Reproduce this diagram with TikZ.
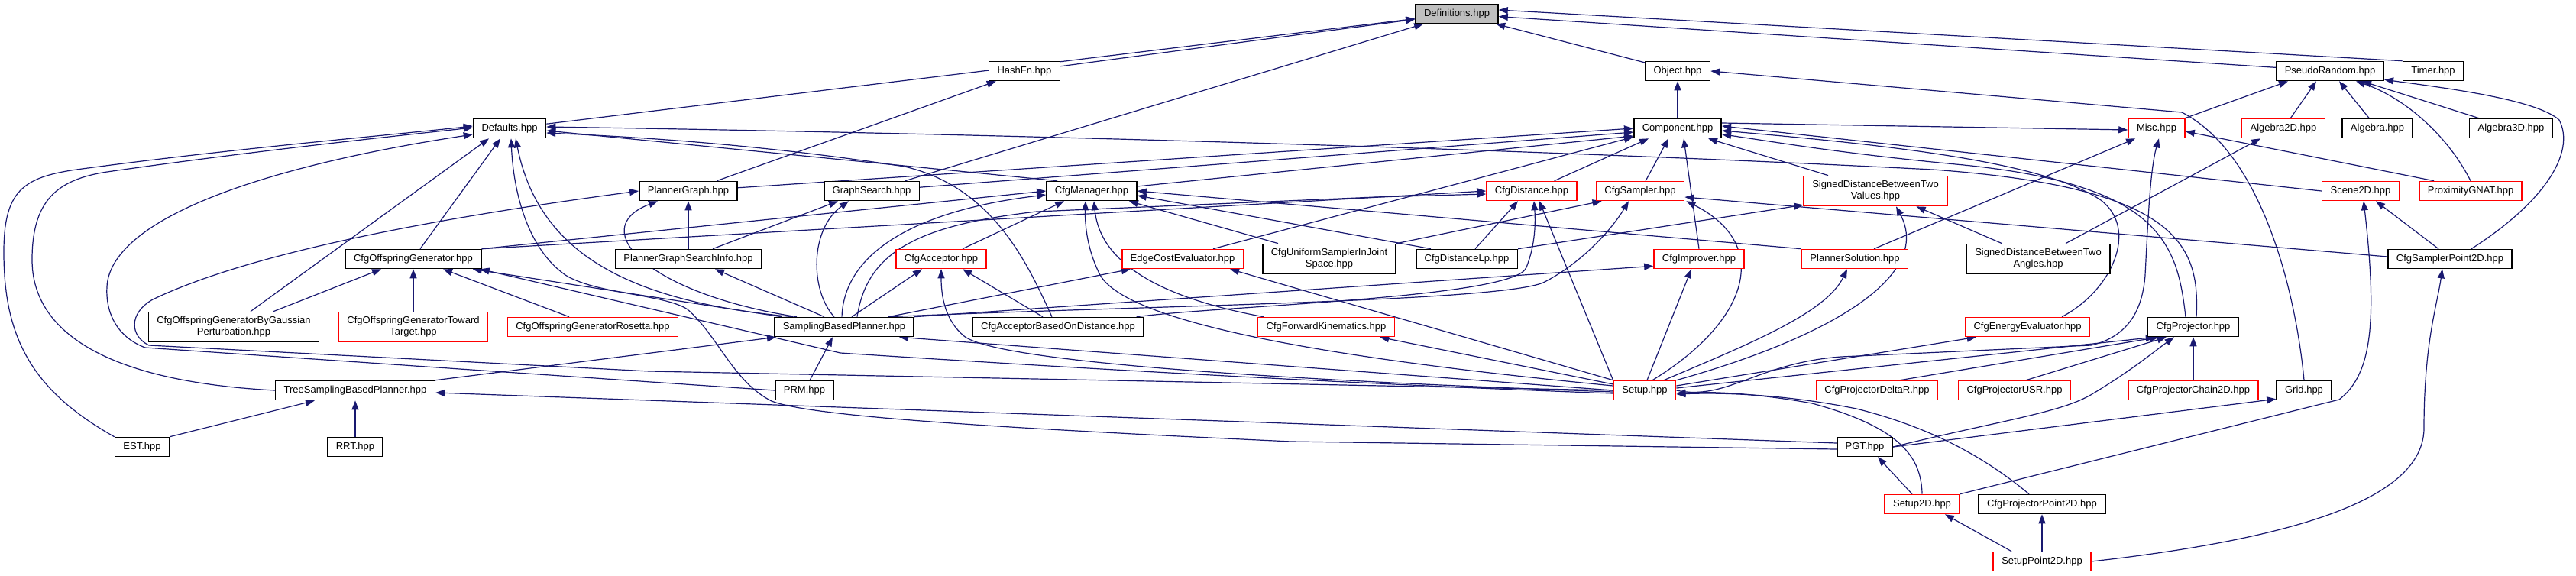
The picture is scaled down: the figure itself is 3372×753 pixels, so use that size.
\documentclass[tikz,border=0pt]{standalone}
\usepackage{fontspec}
\setmainfont{Liberation Sans}
\usetikzlibrary{arrows.meta,calc}
\definecolor{edgec}{HTML}{191970}
\definecolor{defgrey}{HTML}{BFBFBF}
\newcommand\nodefont{\fontsize{13}{15}\selectfont}
\pgfdeclarelayer{bg}
\pgfsetlayers{bg,main}
\begin{document}
\begin{tikzpicture}[x=1pt,y=-1pt,
  box/.style={draw=black,line width=1.6pt,fill=white,inner xsep=11pt,inner ysep=6pt,minimum height=25pt,font=\nodefont,align=center},
  rbox/.style={box,draw=red},
  e/.style={draw=edgec,line width=1.2pt,-{Triangle[length=12pt,width=9pt]}}]
\useasboundingbox (0,0) rectangle (3372,753);
% rows
\node[box,fill=defgrey] (def) at (1907,18) {Definitions.hpp};
\node[box] (hash) at (1341,93) {HashFn.hpp};
\node[box] (obj) at (2196,93) {Object.hpp};
\node[box] (pr) at (3050,93) {PseudoRandom.hpp};
\node[box] (timer) at (3185,93) {Timer.hpp};
\node[box] (defaults) at (667,168) {Defaults.hpp};
\node[box] (comp) at (2196,168) {Component.hpp};
\node[rbox] (misc) at (2823,168) {Misc.hpp};
\node[rbox] (alg2d) at (2989,168) {Algebra2D.hpp};
\node[box] (alg) at (3112,168) {Algebra.hpp};
\node[box] (alg3d) at (3287,168) {Algebra3D.hpp};
\node[box] (pg) at (901,250) {PlannerGraph.hpp};
\node[box] (gs) at (1141,250) {GraphSearch.hpp};
\node[box] (cm) at (1429,250) {CfgManager.hpp};
\node[rbox] (cd) at (2005,250) {CfgDistance.hpp};
\node[rbox] (cs) at (2147,250) {CfgSampler.hpp};
\node[rbox] (sdv) at (2455,250) {SignedDistanceBetweenTwo\\Values.hpp};
\node[rbox] (scene) at (3090,250) {Scene2D.hpp};
\node[rbox] (gnat) at (3234,250) {ProximityGNAT.hpp};
\node[box] (cog) at (541,339) {CfgOffspringGenerator.hpp};
\node[box] (pgsi) at (901,339) {PlannerGraphSearchInfo.hpp};
\node[rbox] (cacc) at (1232,339) {CfgAcceptor.hpp};
\node[rbox] (ece) at (1548,339) {EdgeCostEvaluator.hpp};
\node[box] (cus) at (1740,339) {CfgUniformSamplerInJoint\\Space.hpp};
\node[box] (cdlp) at (1920,339) {CfgDistanceLp.hpp};
\node[rbox] (cimp) at (2224,339) {CfgImprover.hpp};
\node[rbox] (psol) at (2428,339) {PlannerSolution.hpp};
\node[box] (sda) at (2668,339) {SignedDistanceBetweenTwo\\Angles.hpp};
\node[box] (csp2d) at (3207,339) {CfgSamplerPoint2D.hpp};
\node[box] (cogg) at (306,428) {CfgOffspringGeneratorByGaussian\\Perturbation.hpp};
\node[rbox] (cogt) at (541,428) {CfgOffspringGeneratorToward\\Target.hpp};
\node[rbox] (cogr) at (776,428) {CfgOffspringGeneratorRosetta.hpp};
\node[box] (sbp) at (1105,428) {SamplingBasedPlanner.hpp};
\node[box] (cabd) at (1385,428) {CfgAcceptorBasedOnDistance.hpp};
\node[rbox] (cfk) at (1736,428) {CfgForwardKinematics.hpp};
\node[rbox] (cee) at (2654,428) {CfgEnergyEvaluator.hpp};
\node[box] (cproj) at (2871,428) {CfgProjector.hpp};
\node[box] (tsbp) at (465,511) {TreeSamplingBasedPlanner.hpp};
\node[box] (prm) at (1053,511) {PRM.hpp};
\node[rbox] (setup) at (2153,511) {Setup.hpp};
\node[rbox] (cpdr) at (2457,511) {CfgProjectorDeltaR.hpp};
\node[rbox] (cpusr) at (2637,511) {CfgProjectorUSR.hpp};
\node[rbox] (cpc2d) at (2871,511) {CfgProjectorChain2D.hpp};
\node[box] (grid) at (3016,511) {Grid.hpp};
\node[box] (est) at (186,585) {EST.hpp};
\node[box] (rrt) at (465,585) {RRT.hpp};
\node[box] (pgt) at (2441,585) {PGT.hpp};
\node[rbox] (s2d) at (2516,660) {Setup2D.hpp};
\node[box] (cpp2d) at (2673,660) {CfgProjectorPoint2D.hpp};
\node[rbox] (sp2d) at (2673,735) {SetupPoint2D.hpp};

\begin{pgfonlayer}{bg}
% Definitions
\draw[e] (defaults) -- (def);
\draw[e] (hash) -- (def);
\draw[e] (gs) -- (def);
\draw[e] (obj) -- (def);
\draw[e] (pr) -- (def);
\draw[e] (timer.north west) -- ($(def.east)+(0,-5)$);
% Object, HashFn, PseudoRandom
\draw[e] (comp) -- (obj);
\draw[e] (grid.north) .. controls (3005,380) and (2960,200) .. (2856,147) -- (obj.east);
\draw[e] (pg) -- (hash);
\draw[e] (misc) -- ($(pr.south)+(-55,0)$);
\draw[e] (alg2d) -- ($(pr.south)+(-18,0)$);
\draw[e] (alg) -- ($(pr.south)+(12,0)$);
\draw[e] (alg3d) -- ($(pr.south)+(42,0)$);
\draw[e] (gnat.north) .. controls (3200,170) and (3140,125) .. ($(pr.south)+(34,0)$);
\draw[e] ($(csp2d.north)+(28,0)$) .. controls (3330,265) and (3372,200) .. (3350,157) .. controls (3320,130) and (3200,115) .. ($(pr.south east)+(0,-2)$);
% Defaults
\draw[e] (est.north west) .. controls (40,510) and (5,440) .. (5,330) .. controls (5,250) and (30,232) .. (100,222) .. controls (300,195) and (500,178) .. ($(defaults.west)+(0,-3)$);
\draw[e] (tsbp.west) .. controls (150,500) and (42,440) .. (42,340) .. controls (42,262) and (75,235) .. (140,225) .. controls (330,198) and (500,180) .. ($(defaults.west)+(0,-1)$);
\draw[e] (prm.west) -- (190,455) .. controls (150,440) and (138,405) .. (140,375) .. controls (145,290) and (330,220) .. ($(defaults.west)+(0,8)$);
\draw[e] ($(cogg.north)+(22,0)$) -- ($(defaults.south)+(-27,0)$);
\draw[e] ($(cog.north)+(9,0)$) -- ($(defaults.south)+(-12,0)$);
\draw[e] ($(sbp.north west)+(25,0)$) .. controls (820,395) and (705,330) .. ($(defaults.south)+(8,0)$);
\draw[e] ($(pgt.west)+(0,3)$) -- (1690,578) .. controls (1300,560) and (1060,545) .. (1010,525) .. controls (960,500) and (940,440) .. (900,405) .. controls (870,385) and (780,385) .. (740,360) .. controls (690,325) and (672,250) .. ($(defaults.south)+(2,0)$);
\draw[e] ($(cm.north west)+(15,0)$) -- ($(defaults.east)+(0,3)$);
\draw[e] ($(cabd.north)+(-8,0)$) .. controls (1345,345) and (1300,245) .. (1184,218) .. controls (1000,190) and (850,180) .. ($(defaults.east)+(0,6)$);
\draw[e] ($(cproj.north)+(4,0)$) .. controls (2880,320) and (2850,245) .. (2530,222) .. controls (2000,195) and (1300,175) .. ($(defaults.east)+(0,-2)$);
% Component
\draw[e] (pg) -- (comp.west);
\draw[e] (gs) -- ($(comp.west)+(0,5)$);
\draw[e] (cm) -- ($(comp.west)+(0,10)$);
\draw[e] ($(ece.north)+(40,0)$) -- ($(comp.south west)+(0,-2)$);
\draw[e] (cd) -- ($(comp.south)+(-38,0)$);
\draw[e] (cs) -- ($(comp.south)+(-12,0)$);
\draw[e] (cimp.north) -- ($(comp.south)+(8,0)$);
\draw[e] ($(sdv.north)+(-62,0)$) -- ($(comp.south east)+(-18,0)$);
\draw[e] (scene.west) -- ($(comp.east)+(0,-3)$);
\draw[e] ($(cee.north)+(45,0)$) .. controls (2765,380) and (2800,300) .. (2750,262) .. controls (2680,215) and (2500,192) .. ($(comp.east)+(0,3)$);
\draw[e] ($(cproj.north)+(-10,0)$) .. controls (2850,320) and (2830,240) .. (2560,215) .. controls (2400,200) and (2300,182) .. ($(comp.east)+(0,8)$);
% Misc, Algebra2D, Scene2D, CfgSamplerPoint2D
\draw[e] ($(comp.east)+(0,-7)$) -- ($(misc.west)+(0,2)$);
\draw[e] ($(psol.north)+(25,0)$) -- ($(misc.south west)+(10,0)$);
\draw[e] (setup.east) .. controls (2260,525) and (2300,475) .. (2410,467) -- (2737,452) .. controls (2790,440) and (2805,400) .. (2808,360) .. controls (2812,280) and (2815,220) .. ($(misc.south)+(3,0)$);
\draw[e] ($(gnat.north west)+(20,0)$) -- ($(misc.east)+(0,4)$);
\draw[e] ($(sda.north)+(36,0)$) -- ($(alg2d.south)+(-30,0)$);
\draw[e] (s2d.north east) -- (3062,523) .. controls (3105,490) and (3112,420) .. ($(scene.south)+(4,0)$);
\draw[e] ($(csp2d.north)+(-15,0)$) -- ($(scene.south)+(20,0)$);
\draw[e] (sp2d.east) .. controls (3050,700) and (3173,640) .. (3173,560) .. controls (3173,450) and (3190,400) .. ($(csp2d.south)+(-10,0)$);
% PlannerGraph, GraphSearch
\draw[e] (pgsi) -- (pg);
\draw[e] ($(sbp.north west)+(30,0)$) .. controls (850,385) and (765,300) .. ($(pg.south)+(-40,0)$);
\draw[e] (setup.west) -- (850,486) -- (195,452) .. controls (170,440) and (168,410) .. (200,392) .. controls (350,320) and (650,275) .. (pg.west);
\draw[e] ($(pgsi.north)+(32,0)$) -- ($(gs.south)+(-44,0)$);
\draw[e] ($(sbp.north)+(-13,0)$) .. controls (1060,380) and (1060,300) .. ($(gs.south)+(-30,0)$);
% CfgManager
\draw[e] (cog.north east) -- (cm.west);
\draw[e] ($(sbp.north)+(-3,0)$) .. controls (1105,330) and (1200,275) .. ($(cm.west)+(0,5)$);
\draw[e] ($(cacc.north)+(28,0)$) -- ($(cm.south)+(-36,0)$);
\draw[e] ($(cfk.north west)+(8,0)$) .. controls (1520,390) and (1440,345) .. ($(cm.south)+(3,0)$);
\draw[e] ($(setup.west)+(0,-6)$) .. controls (1800,475) and (1480,430) .. (1440,360) .. controls (1422,325) and (1420,290) .. ($(cm.south)+(-8,0)$);
\draw[e] ($(cus.north west)+(21,0)$) -- ($(cm.south east)+(-11,0)$);
\draw[e] ($(cdlp.north west)+(20,0)$) -- ($(cm.east)+(0,6)$);
\draw[e] (psol.north west) -- (cm.east);
% CfgDistance
\draw[e] (cog.north east) -- (cd.west);
\draw[e] ($(cdlp.north)+(11,0)$) -- ($(cd.south)+(-18,0)$);
\draw[e] (setup.north west) -- ($(cd.south)+(10,0)$);
\draw[e] ($(cabd.north east)+(-10,0)$) .. controls (1600,400) and (1985,390) .. (1998,350) .. controls (2010,320) and (2010,290) .. ($(cd.south)+(3,0)$);
\draw[e] ($(sbp.north)+(17,0)$) .. controls (1135,330) and (1200,295) .. (1357,277) -- (1800,258) -- ($(cd.west)+(0,4)$);
% CfgSampler
\draw[e] (cus.north east) -- ($(cs.south west)+(8,0)$);
\draw[e] ($(sbp.north east)+(-34,0)$) .. controls (1500,400) and (1960,395) .. (2020,370) .. controls (2070,345) and (2110,300) .. ($(cs.south)+(-15,0)$);
\draw[e] ($(csp2d.west)+(0,-3)$) -- ($(cs.east)+(0,8)$);
\draw[e] ($(setup.north)+(10,0)$) .. controls (2290,420) and (2320,320) .. ($(cs.south east)+(2,0)$);
% SignedDistanceBetweenTwoValues
\draw[e] (cdlp.north east) -- ($(sdv.south west)+(0,-2)$);
\draw[e] (setup.north east) .. controls (2400,440) and (2530,360) .. ($(sdv.south)+(27,0)$);
\draw[e] ($(sda.north west)+(47,0)$) -- ($(sdv.south east)+(-41,0)$);
% CfgAcceptor, EdgeCostEvaluator, CfgImprover, PlannerSolution, PGSI
\draw[e] ($(sbp.north)+(10,0)$) -- ($(cacc.south)+(-25,0)$);
\draw[e] ($(setup.west)+(0,2)$) .. controls (1600,495) and (1300,470) .. (1262,440) .. controls (1238,420) and (1232,390) .. (cacc.south);
\draw[e] ($(cabd.north)+(-20,0)$) -- ($(cacc.south)+(28,0)$);
\draw[e] ($(sbp.north east)+(-34,0)$) -- ($(ece.south west)+(12,0)$);
\draw[e] (setup.north west) -- ($(ece.south east)+(-18,0)$);
\draw[e] (sbp.north east) -- ($(cimp.south west)+(0,-4)$);
\draw[e] ($(setup.north)+(3,0)$) -- ($(cimp.south)+(-10,0)$);
\draw[e] ($(setup.north)+(25,0)$) .. controls (2290,450) and (2390,410) .. ($(psol.south)+(-10,0)$);
\draw[e] ($(sbp.north west)+(66,0)$) -- ($(pgsi.south)+(35,0)$);
% CfgOffspringGenerator
\draw[e] ($(cogg.north)+(52,0)$) -- ($(cog.south)+(-42,0)$);
\draw[e] (cogt) -- (cog);
\draw[e] ($(cogr.north)+(-31,0)$) -- ($(cog.south)+(39,0)$);
\draw[e] ($(sbp.north west)+(10,0)$) -- ($(cog.south east)+(-12,0)$);
\draw[e] ($(setup.west)+(0,4)$) .. controls (1700,500) and (1300,475) .. (1100,462) -- ($(cog.south east)+(-2,0)$);
% SamplingBasedPlanner
\draw[e] (tsbp.north east) -- ($(sbp.south west)+(3,0)$);
\draw[e] (prm) -- ($(sbp.south)+(-15,0)$);
\draw[e] (setup.west) -- ($(sbp.south east)+(-20,0)$);
% CfgForwardKinematics, CfgEnergyEvaluator, CfgProjector
\draw[e] ($(setup.west)+(0,-8)$) -- ($(cfk.south east)+(-20,0)$);
\draw[e] ($(setup.east)+(0,-6)$) -- ($(cee.south west)+(15,0)$);
\draw[e] ($(setup.east)+(0,-3)$) -- ($(cproj.south west)+(10,0)$);
\draw[e] ($(cpdr.north)+(30,0)$) -- ($(cproj.south west)+(15,0)$);
\draw[e] ($(cpusr.north)+(15,0)$) -- ($(cproj.south west)+(25,0)$);
\draw[e] (cpc2d) -- (cproj);
\draw[e] (pgt.east) .. controls (2620,550) and (2700,540) .. (2740,515) .. controls (2790,485) and (2820,460) .. ($(cproj.south west)+(35,0)$);
% Tree, PGT, Grid
\draw[e] (est.north east) -- ($(tsbp.south)+(-53,0)$);
\draw[e] (rrt) -- (tsbp);
\draw[e] ($(pgt.west)+(0,-5)$) -- ($(tsbp.east)+(0,3)$);
\draw[e] ($(s2d.north)+(-13,0)$) -- ($(pgt.south)+(17,0)$);
\draw[e] (pgt.east) -- ($(grid.south west)+(0,-2)$);
% Setup, Setup2D, CfgProjectorPoint2D
\draw[e] (s2d.north) .. controls (2515,600) and (2490,560) .. (2372,528) .. controls (2300,515) and (2240,512) .. ($(setup.east)+(0,4)$);
\draw[e] ($(cpp2d.north)+(-17,0)$) .. controls (2600,600) and (2530,560) .. (2430,535) .. controls (2330,515) and (2250,514) .. ($(setup.east)+(0,5)$);
\draw[e] ($(sp2d.north)+(-40,0)$) -- ($(s2d.south)+(30,0)$);
\draw[e] (sp2d) -- (cpp2d);
\end{pgfonlayer}
\end{tikzpicture}
\end{document}
